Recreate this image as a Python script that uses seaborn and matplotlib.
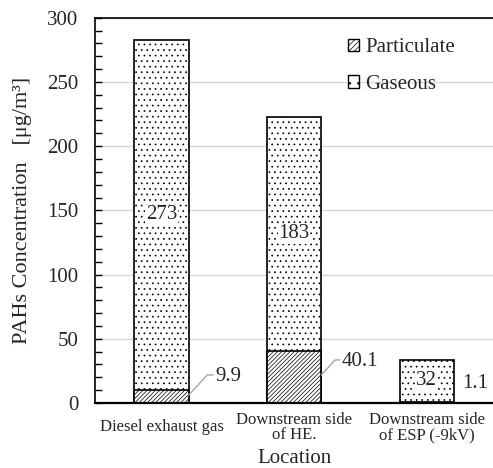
import matplotlib
matplotlib.use("Agg")
import matplotlib.pyplot as plt
import seaborn as sns
import pandas as pd
from matplotlib.patches import Patch

locations = ["Diesel exhaust gas", "Downstream side\nof HE.", "Downstream side\nof ESP (-9kV)"]
particulate = [9.9, 40.1, 1.1]
gaseous = [273, 183, 32]
series_names = ["Particulate", "Gaseous"]
y_ticks = [0, 50, 100, 150, 200, 250, 300]

df = pd.DataFrame({"Location": locations,
                   "Particulate": particulate,
                   "Gaseous": gaseous})
df["Total"] = df["Particulate"] + df["Gaseous"]

sns.set_theme(style="white")
plt.rcParams["font.family"] = ["Liberation Serif", "DejaVu Serif"]
plt.rcParams["hatch.linewidth"] = 0.5
plt.rcParams["hatch.color"] = "black"

FS = 15

fig = plt.figure(figsize=(4.93, 4.68), dpi=100)
ax = fig.add_axes([0.193, 0.139, 0.807, 0.823])

bw = 0.41
sns.barplot(data=df, x="Location", y="Total", ax=ax, color="white",
            edgecolor="black", linewidth=1.2, width=bw, hatch="...", saturation=1)
sns.barplot(data=df, x="Location", y="Particulate", ax=ax, color="white",
            edgecolor="black", linewidth=1.2, width=bw, hatch="////////", saturation=1)
for p in ax.patches:
    p.set_edgecolor("black")

ax.set_xlim(-0.5, 2.5)
ax.set_ylim(0, 300)
ax.set_yticks(y_ticks)
ax.set_yticks(range(0, 301, 10), minor=True)
ax.yaxis.grid(True, which="major", color="#d9d9d9", linewidth=1.0)
ax.set_axisbelow(True)
ax.tick_params(axis="y", which="both", direction="in", left=True, length=5,
               width=1.0, color="black", labelsize=FS, pad=12)
ax.tick_params(axis="x", bottom=False, labelsize=12, pad=11.5)
for lbl in ax.get_xticklabels():
    lbl.set_verticalalignment("center")
    lbl.set_linespacing(0.95)

for side in ["left", "top", "bottom"]:
    ax.spines[side].set_visible(True)
    ax.spines[side].set_color("black")
ax.spines["left"].set_linewidth(1.2)
ax.spines["top"].set_linewidth(1.2)
ax.spines["bottom"].set_linewidth(1.6)
ax.spines["right"].set_visible(False)

ax.set_ylabel("PAHs Concentration   [μg/m³]", fontsize=16)
ax.set_xlabel("Location", fontsize=FS)
ax.yaxis.set_label_coords(-0.158, 0.5)
ax.xaxis.label.set_verticalalignment("baseline")
ax.xaxis.set_label_coords(0.5, -0.156)

# gaseous labels in middle of gaseous segments
for i, (p, g) in enumerate(zip(particulate, gaseous)):
    ax.text(i, p + g / 2, f"{g:g}", ha="center", va="center", fontsize=FS,
            bbox=dict(facecolor="white", edgecolor="none", pad=0.3))

# particulate labels with leader lines
lead = dict(color="#a6a6a6", linewidth=1.0)
ax.plot([bw / 2, 0.345, 0.39], [6, 21.8, 21.8], **lead)
ax.text(0.405, 20.5, f"{particulate[0]:g}", ha="left", va="center", fontsize=FS)
ax.plot([1 + bw / 2, 1.31, 1.345], [21.8, 33.5, 33.5], **lead)
ax.text(1.36, 32.5, f"{particulate[1]:g}", ha="left", va="center", fontsize=FS)
ax.text(2.265, 15.5, f"{particulate[2]:g}", ha="left", va="center", fontsize=FS)

handles = [Patch(facecolor="white", edgecolor="black", hatch="//////", linewidth=1.0),
           Patch(facecolor="white", edgecolor="black", hatch="..", linewidth=1.0)]
ax.legend(handles, series_names, loc="upper left", bbox_to_anchor=(0.635, 0.947),
          frameon=False, fontsize=FS, handlelength=0.55, handleheight=0.55,
          handletextpad=0.3, labelspacing=0.85, borderpad=0, borderaxespad=0)

fig.savefig("out.png", dpi=100)
